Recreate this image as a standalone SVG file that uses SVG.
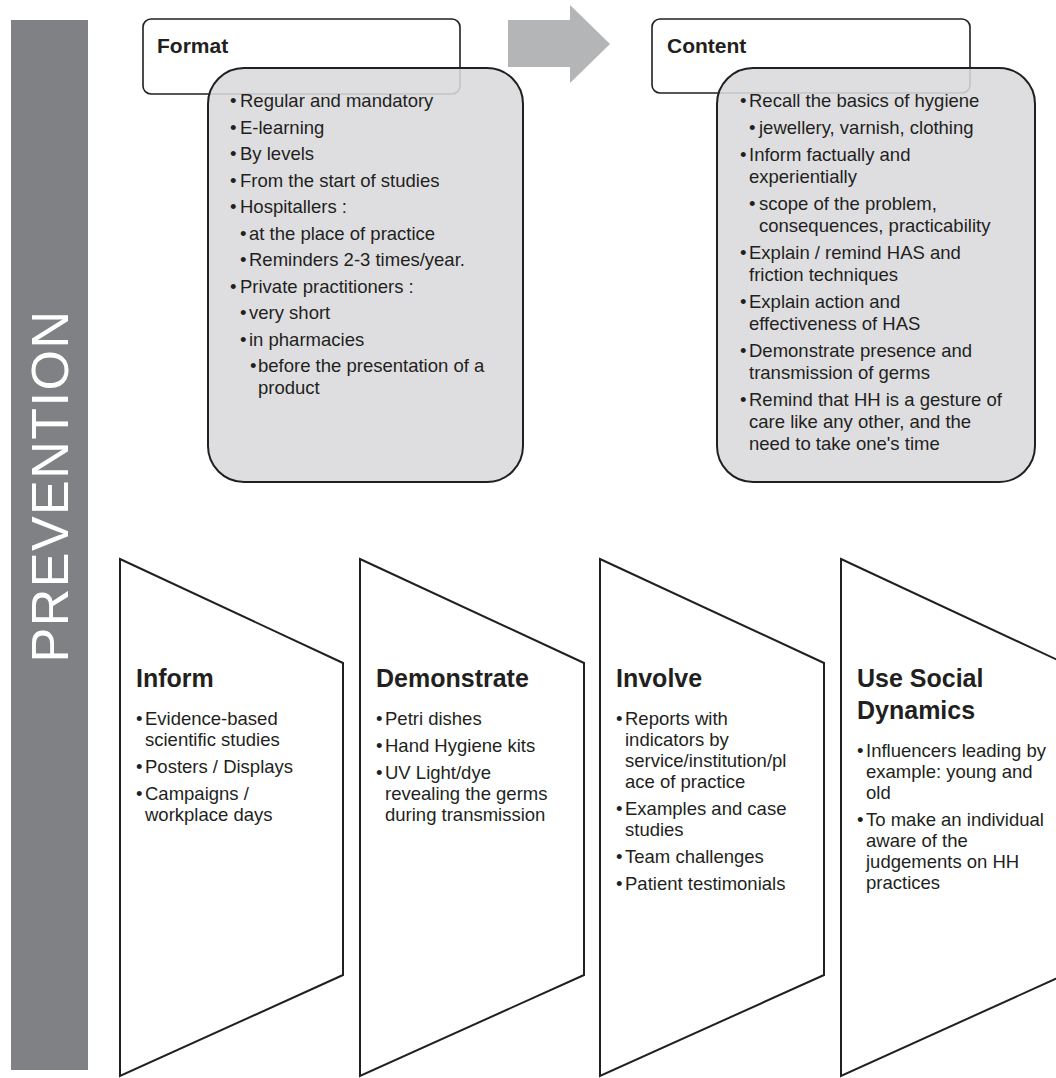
<svg xmlns="http://www.w3.org/2000/svg" width="1056" height="1078" viewBox="0 0 1056 1078">
  <style>
    .t { font-family: "Liberation Sans", Arial, sans-serif; font-size: 18.5px; fill: #231f20; }
    .hd { font-family: "Liberation Sans", Arial, sans-serif; font-size: 21px; font-weight: bold; fill: #231f20; }
    .ti { font-family: "Liberation Sans", Arial, sans-serif; font-size: 25px; font-weight: bold; fill: #231f20; }
    .hbox { fill: #ffffff; stroke: #231f20; stroke-width: 1.6; }
    .dbox { fill: #d9dadc; fill-opacity: 0.88; stroke: #231f20; stroke-width: 2; }
    .pent { fill: #ffffff; stroke: #231f20; stroke-width: 2; stroke-linejoin: miter; }
  </style>
  <rect width="1056" height="1078" fill="#ffffff"/>

  <g id="prevention-bar">
    <rect x="11" y="20" width="77" height="1050" fill="#808184"/>
    <text transform="translate(68,486) rotate(-90)" text-anchor="middle" font-family="Liberation Sans, Arial, sans-serif" font-size="52" letter-spacing="1.5" fill="#ffffff">PREVENTION</text>
  </g>

  <g id="connectors">
    <polygon points="508,20 570,20 570,5 610,44 570,83 570,67 508,67" fill="#b4b5b7"/>
  </g>

  <g id="format">
    <rect class="hbox" x="143" y="19" width="317" height="75" rx="8"/>
    <text class="hd" x="157" y="53">Format</text>
    <rect class="dbox" x="208" y="68" width="315" height="414" rx="36"/>
    <text class="t" y="107"><tspan x="230">•</tspan><tspan x="240">Regular and mandatory</tspan></text>
    <text class="t" y="133.5"><tspan x="230">•</tspan><tspan x="240">E-learning</tspan></text>
    <text class="t" y="160"><tspan x="230">•</tspan><tspan x="240">By levels</tspan></text>
    <text class="t" y="186.5"><tspan x="230">•</tspan><tspan x="240">From the start of studies</tspan></text>
    <text class="t" y="213"><tspan x="230">•</tspan><tspan x="240">Hospitallers :</tspan></text>
    <text class="t" y="239.5"><tspan x="240">•</tspan><tspan x="249">at the place of practice</tspan></text>
    <text class="t" y="266"><tspan x="240">•</tspan><tspan x="249">Reminders 2-3 times/year.</tspan></text>
    <text class="t" y="292.5"><tspan x="230">•</tspan><tspan x="240">Private practitioners :</tspan></text>
    <text class="t" y="319"><tspan x="240">•</tspan><tspan x="249">very short</tspan></text>
    <text class="t" y="345.5"><tspan x="240">•</tspan><tspan x="249">in pharmacies</tspan></text>
    <text class="t" y="372"><tspan x="250">•</tspan><tspan x="258">before the presentation of a</tspan></text>
    <text class="t" x="258" y="394">product</text>
  </g>

  <g id="content">
    <rect class="hbox" x="652" y="19" width="318" height="74" rx="8"/>
    <text class="hd" x="667" y="53">Content</text>
    <rect class="dbox" x="717" y="68" width="318" height="414" rx="36"/>
    <text class="t" y="107"><tspan x="740">•</tspan><tspan x="749">Recall the basics of hygiene</tspan></text>
    <text class="t" y="134"><tspan x="749">•</tspan><tspan x="759">jewellery, varnish, clothing</tspan></text>
    <text class="t" y="161"><tspan x="740">•</tspan><tspan x="749">Inform factually and</tspan></text>
    <text class="t" x="749" y="183">experientially</text>
    <text class="t" y="210"><tspan x="749">•</tspan><tspan x="759">scope of the problem,</tspan></text>
    <text class="t" x="759" y="232">consequences, practicability</text>
    <text class="t" y="259"><tspan x="740">•</tspan><tspan x="749">Explain / remind HAS and</tspan></text>
    <text class="t" x="749" y="281">friction techniques</text>
    <text class="t" y="308"><tspan x="740">•</tspan><tspan x="749">Explain action and</tspan></text>
    <text class="t" x="749" y="330">effectiveness of HAS</text>
    <text class="t" y="357"><tspan x="740">•</tspan><tspan x="749">Demonstrate presence and</tspan></text>
    <text class="t" x="749" y="379">transmission of germs</text>
    <text class="t" y="406"><tspan x="740">•</tspan><tspan x="749">Remind that HH is a gesture of</tspan></text>
    <text class="t" x="749" y="428">care like any other, and the</text>
    <text class="t" x="749" y="450">need to take one's time</text>
  </g>

  <g id="inform">
    <polygon class="pent" points="120,559 343,663 343,975 120,1076"/>
    <text class="ti" x="136" y="687">Inform</text>
    <text class="t" y="725"><tspan x="136">•</tspan><tspan x="145">Evidence-based</tspan></text>
    <text class="t" x="145" y="746">scientific studies</text>
    <text class="t" y="773"><tspan x="136">•</tspan><tspan x="145">Posters / Displays</tspan></text>
    <text class="t" y="800"><tspan x="136">•</tspan><tspan x="145">Campaigns /</tspan></text>
    <text class="t" x="145" y="821">workplace days</text>
  </g>

  <g id="demonstrate">
    <polygon class="pent" points="360,559 584,663 584,975 360,1076"/>
    <text class="ti" x="376" y="687">Demonstrate</text>
    <text class="t" y="725"><tspan x="376">•</tspan><tspan x="385">Petri dishes</tspan></text>
    <text class="t" y="752"><tspan x="376">•</tspan><tspan x="385">Hand Hygiene kits</tspan></text>
    <text class="t" y="779"><tspan x="376">•</tspan><tspan x="385">UV Light/dye</tspan></text>
    <text class="t" x="385" y="800">revealing the germs</text>
    <text class="t" x="385" y="821">during transmission</text>
  </g>

  <g id="involve">
    <polygon class="pent" points="600,559 824,663 824,975 600,1076"/>
    <text class="ti" x="616" y="687">Involve</text>
    <text class="t" y="725"><tspan x="616">•</tspan><tspan x="625">Reports with</tspan></text>
    <text class="t" x="625" y="746">indicators by</text>
    <text class="t" x="625" y="767">service/institution/pl</text>
    <text class="t" x="625" y="788">ace of practice</text>
    <text class="t" y="815"><tspan x="616">•</tspan><tspan x="625">Examples and case</tspan></text>
    <text class="t" x="625" y="836">studies</text>
    <text class="t" y="863"><tspan x="616">•</tspan><tspan x="625">Team challenges</tspan></text>
    <text class="t" y="890"><tspan x="616">•</tspan><tspan x="625">Patient testimonials</tspan></text>
  </g>

  <g id="social-dynamics">
    <polygon class="pent" points="841,559 1064,663 1064,975 841,1076"/>
    <text class="ti" x="857" y="687">Use Social</text>
    <text class="ti" x="857" y="719">Dynamics</text>
    <text class="t" y="757"><tspan x="857">•</tspan><tspan x="866">Influencers leading by</tspan></text>
    <text class="t" x="866" y="778">example: young and</text>
    <text class="t" x="866" y="799">old</text>
    <text class="t" y="826"><tspan x="857">•</tspan><tspan x="866">To make an individual</tspan></text>
    <text class="t" x="866" y="847">aware of the</text>
    <text class="t" x="866" y="868">judgements on HH</text>
    <text class="t" x="866" y="889">practices</text>
  </g>
</svg>
